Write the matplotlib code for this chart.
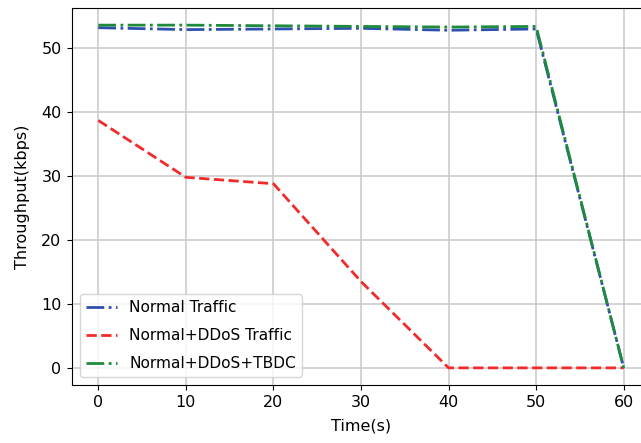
import matplotlib
matplotlib.use("Agg")
import matplotlib.pyplot as plt

time_s = [0, 10, 20, 30, 40, 50, 60]
normal_traffic = [53.2, 52.9, 53.0, 53.1, 52.8, 53.0, 0.0]
normal_ddos = [38.7, 29.8, 28.8, 13.5, 0.0, 0.0, 0.0]
normal_ddos_tbdc = [53.6, 53.6, 53.5, 53.4, 53.3, 53.4, 0.0]
labels = ["Normal Traffic", "Normal+DDoS Traffic", "Normal+DDoS+TBDC"]

fig = plt.figure(figsize=(6.41, 4.43), dpi=100)
ax = fig.add_axes([72/641, 58/443, (650-72)/641, 377/443])

ax.plot(time_s, normal_traffic, linestyle="-.", color="#2f4fb0", lw=2, label=labels[0])
ax.plot(time_s, normal_ddos, linestyle="--", color="#f22a2a", lw=2, label=labels[1])
ax.plot(time_s, normal_ddos_tbdc, linestyle="-.", color="#1e8a3c", lw=2, label=labels[2])

ax.grid(True, color="#cccccc", lw=1.2)
ax.set_axisbelow(True)
ax.set_xticks([0, 10, 20, 30, 40, 50, 60])
ax.set_yticks([0, 10, 20, 30, 40, 50])
ax.tick_params(labelsize=11.5, pad=4)
ax.set_xlabel("Time(s)", fontsize=11.5, labelpad=6)
ax.set_ylabel("Throughput(kbps)", fontsize=11.5, labelpad=8)
ax.legend(loc="lower left", fontsize=11.1, labelspacing=0.85)

fig.savefig("out.png", dpi=100)
